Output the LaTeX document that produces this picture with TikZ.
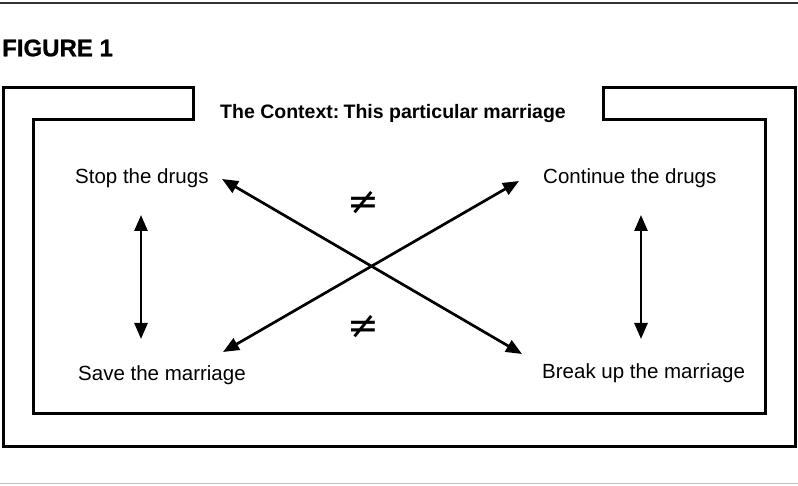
\documentclass[tikz,border=0pt]{standalone}
\usepackage{fontspec}
\setmainfont{Liberation Sans}
\newfontfamily\symfont{DejaVu Sans}
\newfontfamily\figfont[FakeBold=1]{Liberation Sans Bold}
\usetikzlibrary{arrows.meta}
\begin{document}
\begin{tikzpicture}[x=1pt,y=-1pt,
  frame/.style={line width=3pt, line join=miter},
  lbl/.style={font=\fontsize{20.5}{23}\selectfont, inner sep=0pt},
  dbl/.style={line width=2.7pt, {Triangle[length=16pt,width=13pt]}-{Triangle[length=16pt,width=13pt]}},
  neq/.style={font=\symfont\fontsize{38}{40}\selectfont, inner sep=0pt}]
\useasboundingbox (0,0) rectangle (798,486);
% rules
\draw[line width=2pt, black!80] (0,3) -- (798,3);
\draw[line width=1pt, black!25] (0,483) -- (798,483);
% heading
\node[anchor=west, inner sep=0pt, font=\figfont\fontsize{24}{28}\selectfont] (fig) at (2,48) {FIGURE 1};
% frame
\draw[frame] (193,120) -- (193,88) -- (3,88) -- (3,446) -- (795,446) -- (795,88) -- (603,88) -- (603,120)
  -- (765,120) -- (765,413) -- (33,413) -- (33,120) -- cycle;
\node[inner sep=0pt, font=\fontsize{19.5}{21}\selectfont\bfseries] (ctx) at (393,114) {The Context:\hspace{-0.15em} This particular marriage};
% labels
\node[lbl, anchor=west] (stop) at (75,178) {Stop the drugs};
\node[lbl, anchor=west] (cont) at (543,178) {Continue the drugs};
\node[lbl, anchor=west] (save) at (78,375) {Save the marriage};
\node[lbl, anchor=west] (brk) at (542,373) {Break up the marriage};
% arrow ends
\coordinate (lt) at (141,215);
\coordinate (lb) at (141,339);
\coordinate (rt) at (641,215);
\coordinate (rb) at (641,339);
\coordinate (d1) at (222,179);
\coordinate (d2) at (522,354);
\coordinate (d3) at (519,181);
\coordinate (d4) at (223,352);
\draw[dbl] (lt) -- (lb);
\draw[dbl] (rt) -- (rb);
\draw[dbl] (d1) -- (d2);
\draw[dbl] (d3) -- (d4);
\node[neq] (n1) at (363,203) {≠};
\node[neq] (n2) at (363,327) {≠};
\end{tikzpicture}
\end{document}
